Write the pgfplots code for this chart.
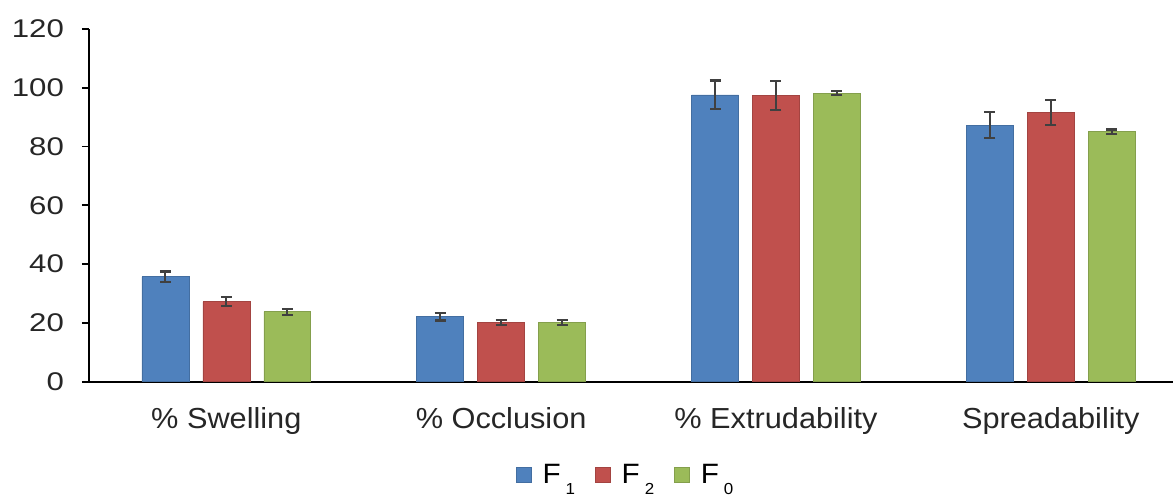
\documentclass[border=0pt]{standalone}
\usepackage{pgfplots}
\pgfplotsset{compat=1.18}
\usepackage{fontspec}
\setmainfont{Liberation Sans}
\newfontfamily\tickf{Liberation Sans}[FakeStretch=1.22]
\newfontfamily\catf{Liberation Sans}[FakeStretch=1.06]

\definecolor{cF1}{HTML}{4F81BD}
\definecolor{cF2}{HTML}{C0504D}
\definecolor{cF0}{HTML}{9BBB59}
\definecolor{errc}{HTML}{404040}

\newcommand{\sub}[1]{\hspace{2.5pt}\raisebox{-5.5pt}{\fontsize{8}{9}\selectfont #1}}

\begin{document}
\begin{tikzpicture}
\begin{axis}[
    at={(0,0)}, anchor=south west,
    scale only axis,
    width=542.5pt, height=176.5pt,
    ybar=7pt,
    bar width=23.5pt,
    xmin=-0.5, xmax=3.445,
    ymin=0, ymax=120,
    ytick={0,20,...,120},
    xtick={0,1,2,3},
    xticklabels={\% Swelling, \% Occlusion, \% Extrudability, Spreadability},
    axis x line*=bottom,
    axis y line*=left,
    axis line style={line width=0.9pt, black},
    tick align=outside,
    major tick length=3.5pt,
    x tick style={draw=none},
    y tick style={line width=0.9pt, black},
    tick label style={text=black!85},
    yticklabel style={font=\tickf\fontsize{12.8}{14}\selectfont, xshift=-5.5pt},
    xticklabel style={font=\catf\fontsize{14.5}{16}\selectfont, yshift=-6pt},
    /pgf/number format/assume math mode=true,
    legend style={at={(0.496,-0.265)}, anchor=center, draw=none,
        legend columns=3, font=\catf\fontsize{14}{16}\selectfont,
        /tikz/every odd column/.append style={column sep=3.5pt},
        /tikz/every even column/.append style={column sep=8pt}},
    legend image code/.code={\fill[#1] (0pt,-3.75pt) rectangle (7.5pt,3.75pt);},
    error bars/y dir=both,
    error bars/y explicit,
    error bars/error bar style={line width=1.1pt, errc},
    error bars/error mark options={line width=1.1pt, errc, mark size=2.75pt, rotate=90},
]
\addplot[fill=cF1, draw=cF1!85!black, line width=0.3pt] coordinates {
    (0,35.7) +- (0,1.8)
    (1,22.1) +- (0,1.3)
    (2,97.6) +- (0,4.9)
    (3,87.3) +- (0,4.4)
};
\addlegendentry{F\sub{1}}
\addplot[fill=cF2, draw=cF2!85!black, line width=0.3pt] coordinates {
    (0,27.2) +- (0,1.5)
    (1,20.1) +- (0,0.9)
    (2,97.3) +- (0,5.0)
    (3,91.5) +- (0,4.3)
};
\addlegendentry{F\sub{2}}
\addplot[fill=cF0, draw=cF0!85!black, line width=0.3pt] coordinates {
    (0,23.8) +- (0,1.0)
    (1,20.1) +- (0,0.9)
    (2,98.2) +- (0,0.7)
    (3,85.1) +- (0,0.7)
};
\addlegendentry{F\sub{0}}
\end{axis}
\useasboundingbox (-44.5pt,-57.5pt) rectangle (542.5pt,191pt);
\end{tikzpicture}
\end{document}
